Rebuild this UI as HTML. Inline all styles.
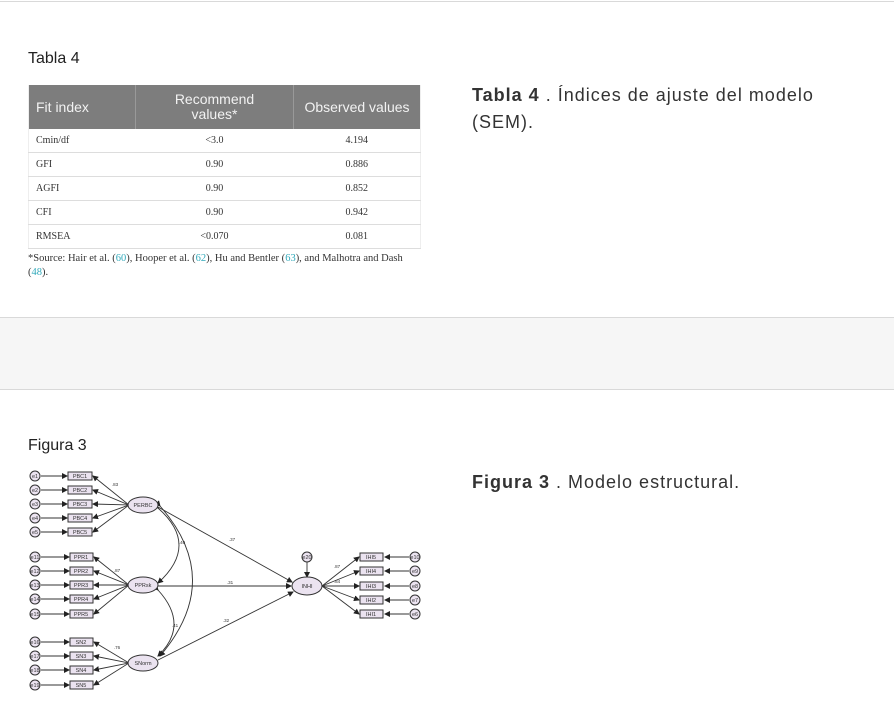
<!DOCTYPE html>
<html><head><meta charset="utf-8"><style>
body{margin:0;width:894px;height:726px;position:relative;background:#fff;font-family:"Liberation Sans",sans-serif;overflow:hidden}
.a{position:absolute}
.hl{position:absolute;left:0;width:894px;height:1px;background:#d9d9d9}
table{border-collapse:collapse;font-family:"Liberation Serif",serif;font-size:10px;color:#333}
td{border-bottom:1px solid #ddd;height:23px;padding:0 0 0 7px}
th{background:#7d7d7d;color:#f2f2f2;font-family:"Liberation Sans",sans-serif;font-weight:normal;font-size:14px;height:42px;line-height:15px;border-right:1px solid #999}
.c{text-align:center;padding:0}
.cap{font-size:18px;color:#333;line-height:27px;letter-spacing:1px}
</style></head><body>
<div class="hl" style="top:1px"></div>
<div class="a" style="left:0;top:317px;width:894px;height:71px;background:#f6f6f6;border-top:1px solid #d9d9d9;border-bottom:1px solid #d9d9d9"></div>
<div class="a" style="left:28px;top:50px;font-size:16px;color:#222">Tabla 4</div>
<table class="a" style="left:28px;top:85px;width:393px;border-left:1px solid #eee;border-right:1px solid #eee">
<tr><th style="width:98px;text-align:left;padding-left:7px">Fit index</th><th style="width:155px">Recommend<br>values*</th><th style="border-right:none">Observed values</th></tr>
<tr><td>Cmin/df</td><td class="c">&lt;3.0</td><td class="c">4.194</td></tr>
<tr><td>GFI</td><td class="c">0.90</td><td class="c">0.886</td></tr>
<tr><td>AGFI</td><td class="c">0.90</td><td class="c">0.852</td></tr>
<tr><td>CFI</td><td class="c">0.90</td><td class="c">0.942</td></tr>
<tr><td>RMSEA</td><td class="c">&lt;0.070</td><td class="c">0.081</td></tr>
</table>
<div class="a" style="left:28px;top:252px;width:385px;font-family:'Liberation Serif',serif;font-size:10.5px;color:#333;line-height:14px">*Source: Hair et al. (<span style="color:#3ab">60</span>), Hooper et al. (<span style="color:#3ab">62</span>), Hu and Bentler (<span style="color:#3ab">63</span>), and Malhotra and Dash (<span style="color:#3ab">48</span>).</div>
<div class="a cap" style="left:472px;top:82px;width:370px"><b>Tabla 4</b> . Índices de ajuste del modelo (SEM).</div>
<div class="a" style="left:28px;top:437px;font-size:16px;color:#222">Figura 3</div>
<div class="a cap" style="left:472px;top:469px"><b>Figura 3</b> . Modelo estructural.</div>
<svg class="a" style="left:0;top:0" width="894" height="726" font-family="Liberation Sans" font-size="6">
<defs><marker id="m" markerWidth="6" markerHeight="6" refX="5" refY="3" orient="auto" markerUnits="userSpaceOnUse"><path d="M0,0L6,3L0,6z" fill="#222"/></marker></defs>
<g stroke="#333" fill="none" stroke-width="0.9" marker-end="url(#m)">
<line x1="41" y1="476" x2="67" y2="476"/><line x1="41" y1="490" x2="67" y2="490"/><line x1="41" y1="504" x2="67" y2="504"/><line x1="41" y1="518" x2="67" y2="518"/><line x1="41" y1="532" x2="67" y2="532"/>
<line x1="129" y1="505" x2="93" y2="476"/><line x1="129" y1="505" x2="93" y2="490"/><line x1="129" y1="505" x2="93" y2="504"/><line x1="129" y1="505" x2="93" y2="518"/><line x1="129" y1="505" x2="93" y2="532"/>
<line x1="41" y1="557" x2="69" y2="557"/><line x1="41" y1="571" x2="69" y2="571"/><line x1="41" y1="585" x2="69" y2="585"/><line x1="41" y1="599" x2="69" y2="599"/><line x1="41" y1="614" x2="69" y2="614"/>
<line x1="129" y1="585" x2="94" y2="557"/><line x1="129" y1="585" x2="94" y2="571"/><line x1="129" y1="585" x2="94" y2="585"/><line x1="129" y1="585" x2="94" y2="599"/><line x1="129" y1="585" x2="94" y2="614"/>
<line x1="41" y1="642" x2="69" y2="642"/><line x1="41" y1="656" x2="69" y2="656"/><line x1="41" y1="670" x2="69" y2="670"/><line x1="41" y1="685" x2="69" y2="685"/>
<line x1="129" y1="663" x2="94" y2="642"/><line x1="129" y1="663" x2="94" y2="656"/><line x1="129" y1="663" x2="94" y2="670"/><line x1="129" y1="663" x2="94" y2="685"/>
<line x1="409" y1="557" x2="385" y2="557"/><line x1="409" y1="571" x2="385" y2="571"/><line x1="409" y1="586" x2="385" y2="586"/><line x1="409" y1="600" x2="385" y2="600"/><line x1="409" y1="614" x2="385" y2="614"/>
<line x1="322" y1="586" x2="359" y2="557"/><line x1="322" y1="586" x2="359" y2="571"/><line x1="322" y1="586" x2="359" y2="586"/><line x1="322" y1="586" x2="359" y2="600"/><line x1="322" y1="586" x2="359" y2="614"/>
<line x1="307" y1="562" x2="307" y2="577"/>
<line x1="158" y1="507" x2="292" y2="582"/><line x1="158" y1="586" x2="291" y2="586"/><line x1="158" y1="660" x2="293" y2="592"/>
<path d="M158,508Q200,545 158,583" marker-start="url(#m)"/>
<path d="M160,506Q225,580 160,656" marker-start="url(#m)"/>
<path d="M158,590Q190,625 158,656" marker-start="url(#m)"/>
</g>
<g fill="#ebe3f0" stroke="#333" stroke-width="1">
<ellipse cx="143" cy="505" rx="15" ry="8"/><ellipse cx="143" cy="585" rx="15" ry="8"/><ellipse cx="143" cy="663" rx="15" ry="8"/><ellipse cx="307" cy="586" rx="15" ry="9"/>
<circle cx="35" cy="476" r="5"/><circle cx="35" cy="490" r="5"/><circle cx="35" cy="504" r="5"/><circle cx="35" cy="518" r="5"/><circle cx="35" cy="532" r="5"/>
<circle cx="35" cy="557" r="5"/><circle cx="35" cy="571" r="5"/><circle cx="35" cy="585" r="5"/><circle cx="35" cy="599" r="5"/><circle cx="35" cy="614" r="5"/>
<circle cx="35" cy="642" r="5"/><circle cx="35" cy="656" r="5"/><circle cx="35" cy="670" r="5"/><circle cx="35" cy="685" r="5"/>
<circle cx="415" cy="557" r="5"/><circle cx="415" cy="571" r="5"/><circle cx="415" cy="586" r="5"/><circle cx="415" cy="600" r="5"/><circle cx="415" cy="614" r="5"/><circle cx="307" cy="557" r="5"/>
<rect x="68" y="472" width="24" height="8"/><rect x="68" y="486" width="24" height="8"/><rect x="68" y="500" width="24" height="8"/><rect x="68" y="514" width="24" height="8"/><rect x="68" y="528" width="24" height="8"/>
<rect x="70" y="553" width="23" height="8"/><rect x="70" y="567" width="23" height="8"/><rect x="70" y="581" width="23" height="8"/><rect x="70" y="595" width="23" height="8"/><rect x="70" y="610" width="23" height="8"/>
<rect x="70" y="638" width="23" height="8"/><rect x="70" y="652" width="23" height="8"/><rect x="70" y="666" width="23" height="8"/><rect x="70" y="681" width="23" height="8"/>
<rect x="360" y="553" width="23" height="8"/><rect x="360" y="567" width="23" height="8"/><rect x="360" y="582" width="23" height="8"/><rect x="360" y="596" width="23" height="8"/><rect x="360" y="610" width="23" height="8"/>
</g>
<g fill="#333" text-anchor="middle" font-size="5.5">
<text x="80" y="478">PBC1</text><text x="80" y="492">PBC2</text><text x="80" y="506">PBC3</text><text x="80" y="520">PBC4</text><text x="80" y="534">PBC5</text>
<text x="81" y="559">PPR1</text><text x="81" y="573">PPR2</text><text x="81" y="587">PPR3</text><text x="81" y="601">PPR4</text><text x="81" y="616">PPR5</text>
<text x="81" y="644">SN2</text><text x="81" y="658">SN3</text><text x="81" y="672">SN4</text><text x="81" y="687">SN5</text>
<text x="371" y="559">IHI5</text><text x="371" y="573">IHI4</text><text x="371" y="588">IHI3</text><text x="371" y="602">IHI2</text><text x="371" y="616">IHI1</text>
<text x="143" y="507">PERBC</text><text x="143" y="587">PPRsk</text><text x="143" y="665">SNorm</text><text x="307" y="588">INHI</text>
<text x="35" y="478">e1</text><text x="35" y="492">e2</text><text x="35" y="506">e3</text><text x="35" y="520">e4</text><text x="35" y="534">e5</text>
<text x="35" y="559">e11</text><text x="35" y="573">e12</text><text x="35" y="587">e13</text><text x="35" y="601">e14</text><text x="35" y="616">e15</text>
<text x="35" y="644">e16</text><text x="35" y="658">e17</text><text x="35" y="672">e18</text><text x="35" y="687">e19</text>
<text x="307" y="559">e20</text><text x="415" y="559">e10</text><text x="415" y="573">e9</text><text x="415" y="588">e8</text><text x="415" y="602">e7</text><text x="415" y="616">e6</text>
<g font-size="4.5"><text x="232" y="541">.37</text><text x="230" y="584">.31</text><text x="226" y="622">.32</text><text x="182" y="544">.40</text><text x="175" y="627">.41</text><text x="115" y="486">.83</text><text x="117" y="572">.87</text><text x="117" y="649">.76</text><text x="337" y="568">.87</text><text x="337" y="583">.84</text></g>
</g>
</svg>
</body></html>
